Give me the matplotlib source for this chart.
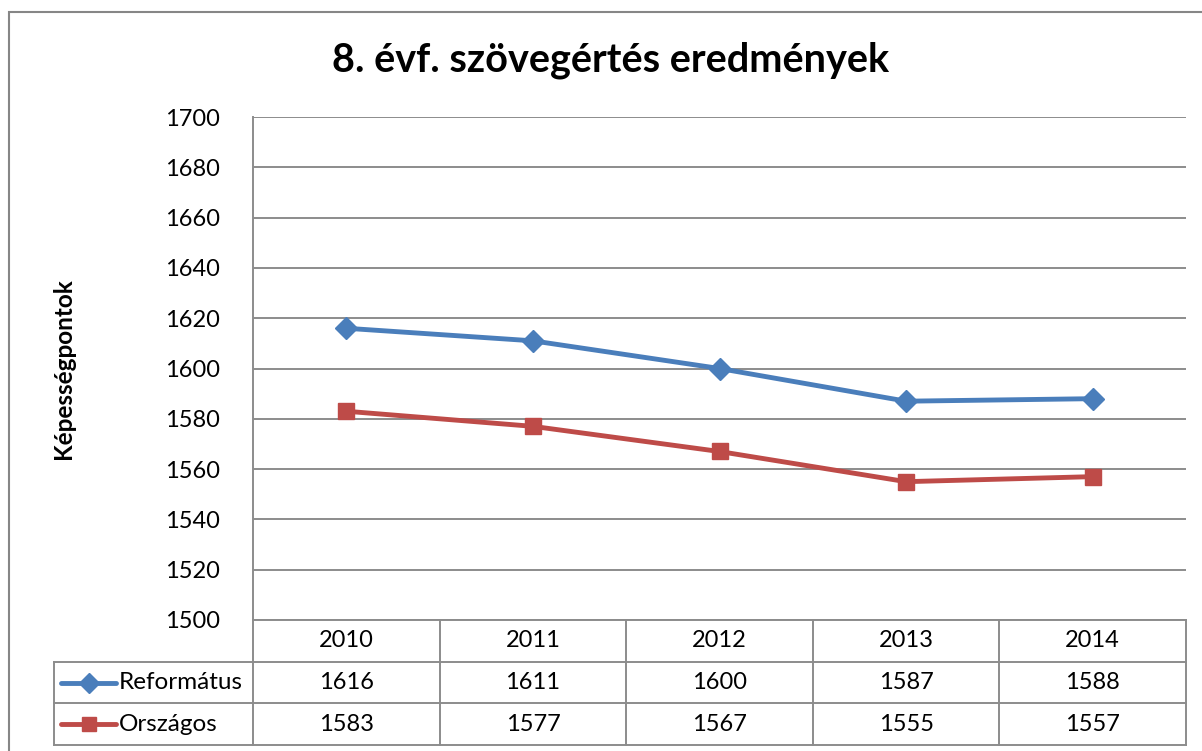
import matplotlib
matplotlib.use("Agg")
import matplotlib.pyplot as plt
from matplotlib.patches import Rectangle
from matplotlib.lines import Line2D

years = ["2010", "2011", "2012", "2013", "2014"]
reformatus = [1616, 1611, 1600, 1587, 1588]
orszagos = [1583, 1577, 1567, 1555, 1557]
series_names = ["Református", "Országos"]
title = "8. évf. szövegértés eredmények"
ylabel = "Képességpontok"
yticks = [1500, 1520, 1540, 1560, 1580, 1600, 1620, 1640, 1660, 1680, 1700]

W, H = 1202, 751
plt.rcParams['font.family'] = ['Lato', 'DejaVu Sans']
fig = plt.figure(figsize=(W / 100, H / 100), dpi=100)

def fx(px):
    return px / W

def fy(py):
    return 1 - py / H

grid_c = "#8c8c8c"
blue = "#4a7ebb"
red = "#be4b48"

# outer chart frame
fig.patches.append(Rectangle((fx(8.5), fy(900)), fx(1300), fy(11.5) - fy(900),
                             transform=fig.transFigure, fill=False,
                             edgecolor="#868686", lw=1.5))

L, R, T, B = 253, 1186, 117, 620
ax = fig.add_axes([fx(L), fy(B), fx(R) - fx(L), fy(T) - fy(B)])
x = list(range(len(years)))
ax.set_xlim(-0.5, len(years) - 0.5)
ax.set_ylim(1500, 1700)
ax.set_yticks(yticks)
ax.set_yticklabels([str(v) for v in yticks], fontsize=17)
ax.set_xticks([])
for s in ["top", "right", "bottom"]:
    ax.spines[s].set_visible(False)
ax.spines["left"].set_color(grid_c)
ax.spines["left"].set_linewidth(1.4)
ax.tick_params(axis="y", length=0, pad=24)
ax.grid(axis="y", color=grid_c, lw=1.4)
ax.set_axisbelow(True)

ax.plot(x, reformatus, color=blue, lw=3.5, marker="D", ms=11, mec=blue, mfc=blue, clip_on=False)
ax.plot(x, orszagos, color=red, lw=3.5, marker="s", ms=11, mec=red, mfc=red, clip_on=False)

ax.set_ylabel(ylabel, fontsize=17.5, fontweight="bold")
ax.yaxis.set_label_coords((75 - L) / (R - L), 0.5)
fig.text(fx(611), fy(60), title, fontsize=28.5, fontweight="bold", ha="center", va="center")

# data table
rows_y = [620, 660, 703, 745]
tax = fig.add_axes([fx(L), fy(rows_y[-1]), fx(R) - fx(L), fy(rows_y[0]) - fy(rows_y[-1])])
tax.set_xlim(-0.5, len(years) - 0.5)
tax.set_ylim(3, 0)
tax.axis("off")
col_w = (R - L) / len(years)
leg_left = -0.5 - (L - 54) / col_w
kw = dict(color=grid_c, lw=1.4, clip_on=False)
# horizontal lines
tax.plot([-0.5, len(years) - 0.5], [0, 0], **kw)
tax.plot([leg_left, len(years) - 0.5], [1, 1], **kw)
tax.plot([leg_left, len(years) - 0.5], [2, 2], **kw)
tax.plot([leg_left, len(years) - 0.5], [3, 3], **kw)
# vertical lines
for k in range(len(years) + 1):
    tax.plot([k - 0.5, k - 0.5], [0, 3], **kw)
tax.plot([leg_left, leg_left], [1, 3], **kw)

fs = 17
for i, yr in enumerate(years):
    tax.text(i, 0.5, yr, ha="center", va="center", fontsize=fs)
    tax.text(i, 1.5, str(reformatus[i]), ha="center", va="center", fontsize=fs)
    tax.text(i, 2.5, str(orszagos[i]), ha="center", va="center", fontsize=fs)

# legend keys
for r, (name, c, m) in enumerate(zip(series_names, [blue, red], ["D", "s"])):
    yy = 1.5 + r
    x0 = leg_left + 7 / col_w
    x1 = leg_left + 62 / col_w
    tax.add_line(Line2D([x0, x1], [yy, yy], color=c, lw=3.5, solid_capstyle="round", clip_on=False))
    tax.plot([(x0 + x1) / 2], [yy], marker=m, ms=10, color=c, clip_on=False)
    tax.text(leg_left + 65 / col_w, yy, name, ha="left", va="center", fontsize=17.5)

fig.savefig("out.png", dpi=100)
